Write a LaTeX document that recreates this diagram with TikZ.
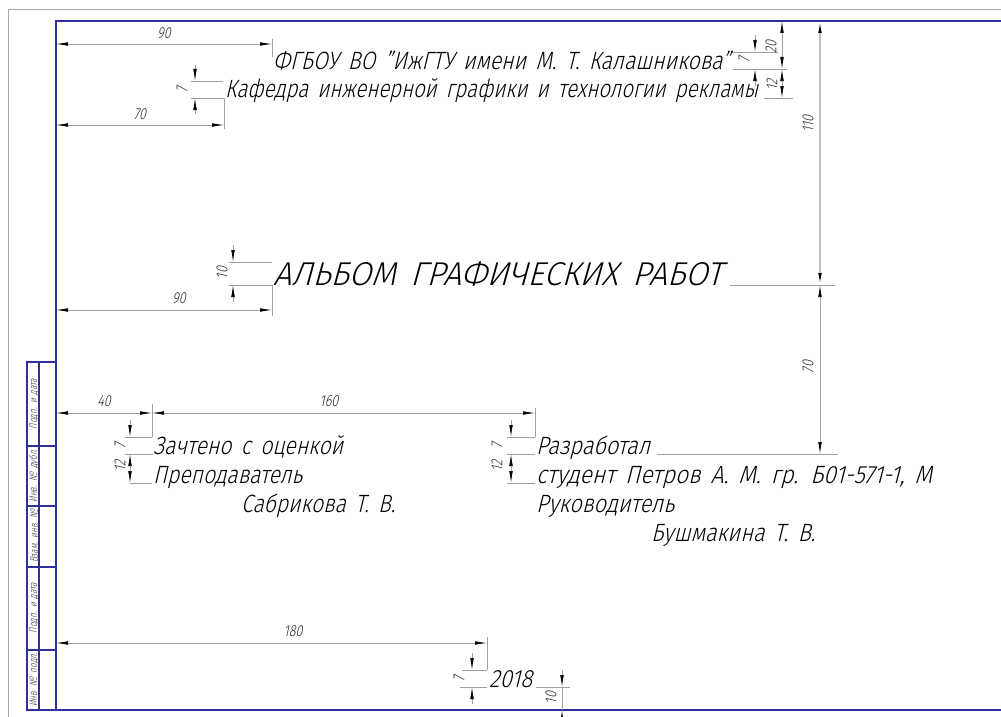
\documentclass[tikz,border=0pt]{standalone}
\usepackage{fontspec}
\usepackage{graphicx}
\usetikzlibrary{arrows.meta}
\setmainfont{Fira Sans Light}[FakeSlant=0.22,FakeStretch=0.78,WordSpace=1.6]
\newcommand{\fitw}[2]{\resizebox{#1pt}{\height}{#2}}
\definecolor{frameblue}{HTML}{30309A}
\definecolor{dimgray}{HTML}{A0A0A0}
\definecolor{widegray}{HTML}{BEBEBE}
\definecolor{inkc}{HTML}{000000}
\tikzset{
  x=1pt,y=-1pt,
  sheet/.style={draw=frameblue,line width=1.1pt},
  pageedge/.style={draw=black!35,line width=0.8pt},
  dimline/.style={draw=dimgray,line width=0.7pt},
  dimtip/.style={draw=dimgray,line width=0.7pt,-{Latex[length=12pt,width=3.6pt,color=black]}},
  dimtiptwo/.style={draw=dimgray,line width=0.7pt,{Latex[length=12pt,width=3.6pt,color=black]}-{Latex[length=12pt,width=3.6pt,color=black]}},
  body/.style={anchor=base west,inner sep=0pt,text=inkc,font=\fontsize{25}{25}\selectfont},
  titletext/.style={anchor=base west,inner sep=0pt,text=inkc,font=\fontsize{33}{33}\selectfont},
  dimtext/.style={inner sep=0pt,text=inkc!85,font=\fontsize{16}{16}\selectfont},
  stamptext/.style={inner sep=0pt,text=inkc!80,rotate=90,font=\fontsize{10.5}{10.5}\selectfont},
}
\begin{document}
\begin{tikzpicture}
\useasboundingbox (0,0) rectangle (1001,717);
% page edge
\draw[pageedge] (8,717) -- (8,9) -- (1001,9);
% sheet frame
\draw[sheet] (1001,21) -- (56,21) -- (56,710) -- (1001,710);
% side stamp
\draw[sheet] (56,362) -- (27,362) -- (27,710) -- (56,710);
\draw[sheet] (39,362) -- (39,710);
\foreach \yy in {446,506,567,650} \draw[sheet] (27,\yy) -- (56,\yy);
\node[stamptext] (s1) at (34,404) {Подп. и дата};
\node[stamptext] (s2) at (34,476) {Инв. № дубл.};
\node[stamptext] (s3) at (34,536) {Взам. инв. №};
\node[stamptext] (s4) at (34,608) {Подп. и дата};
\node[stamptext] (s5) at (34,680) {Инв. № подл.};

% texts
\node[body] (t1) at (273,69) {\fitw{457}{ФГБОУ ВО "ИжГТУ имени М. Т. Калашникова"}};
\node[body] (t2) at (225,98) {\fitw{533}{Кафедра инженерной графики и технологии рекламы}};
\node[titletext] (t3) at (273,285) {\fitw{449}{АЛЬБОМ ГРАФИЧЕСКИХ РАБОТ}};
\node[body] (t4) at (153,454) {\fitw{190}{Зачтено с оценкой}};
\node[body] (t5) at (153,483) {\fitw{149}{Преподаватель}};
\node[body] (t6) at (241,512) {\fitw{154}{Сабрикова Т. В.}};
\node[body] (t7) at (536,454) {\fitw{114}{Разработал}};
\node[body] (t8) at (536,483) {\fitw{396}{студент Петров А. М. гр. Б01-571-1, М}};
\node[body] (t9) at (536,512) {\fitw{138}{Руководитель}};
\node[body] (t10) at (651,541) {\fitw{164}{Бушмакина Т. В.}};
\node[body] (t11) at (489,687) {\fitw{43}{2018}};

% top-left dims
\draw[dimline] (272,39) -- (272,57);
\draw[dimtiptwo] (56,44) -- (272,44);
\node[dimtext] (d1) at (164,33) {90};
\draw[dimline] (191,81) -- (223,81);
\draw[dimline] (191,98) -- (224,98) -- (224,129);
\draw[dimtip] (195,65) -- (195,81);
\draw[dimtip] (195,114) -- (195,98);
\node[dimtext,rotate=90] (d2) at (182,90) {7};
\draw[dimtiptwo] (56,125) -- (224,125);
\node[dimtext] (d3) at (140,114) {70};

% top-right dims
\draw[dimline] (733,52) -- (778,52);
\draw[dimline] (733,69) -- (787,69);
\draw[dimline] (764,98) -- (793,98);
\draw[dimtip] (755,35) -- (755,52);
\draw[dimtip] (755,86) -- (755,69);
\node[dimtext,rotate=90] (d4) at (744,60) {7};
\draw[dimtiptwo] (782,21) -- (782,69);
\draw[dimtiptwo] (782,69) -- (782,98);
\node[dimtext,rotate=90] (d5) at (771,47) {20};
\node[dimtext,rotate=90] (d6) at (772,85) {12};
\draw[dimtiptwo,draw=widegray,line width=1.4pt] (820,21) -- (820,285);
\node[dimtext,rotate=90] (d7) at (808,124) {110};
\draw[dimtiptwo] (820,285) -- (820,454);
\node[dimtext,rotate=90] (d8) at (808,367) {70};

% title dims
\draw[dimline] (730,285) -- (835,285);
\draw[dimline] (229,262) -- (272,262);
\draw[dimline] (229,285) -- (272,285) -- (272,316);
\draw[dimtip] (233,245) -- (233,262);
\draw[dimtip] (233,302) -- (233,285);
\node[dimtext,rotate=90] (d9) at (222,273) {10};
\draw[dimtiptwo] (56,310) -- (272,310);
\node[dimtext] (d10) at (179,298) {90};

% lower-left dims
\draw[dimline] (152,404) -- (152,437);
\draw[dimtiptwo] (56,413) -- (152,413);
\node[dimtext] (d11) at (104,401) {40};
\draw[dimline] (535,408) -- (535,437);
\draw[dimtiptwo] (152,413) -- (535,413);
\node[dimtext] (d12) at (329,401) {160};
\draw[dimline] (125,437) -- (152,437);
\draw[dimline] (125,454) -- (153,454);
\draw[dimline] (130,483) -- (152,483);
\draw[dimtip] (130,420) -- (130,437);
\draw[dimtiptwo] (130,454) -- (130,483);
\node[dimtext,rotate=90] (d13) at (120,446) {7};
\node[dimtext,rotate=90] (d14) at (120,466) {12};

% lower-right dims
\draw[dimline] (507,437) -- (535,437);
\draw[dimline] (507,454) -- (535,454);
\draw[dimline] (507,483) -- (535,483);
\draw[dimline] (657,454) -- (838,454);
\draw[dimtip] (511,420) -- (511,437);
\draw[dimtiptwo] (511,454) -- (511,483);
\node[dimtext,rotate=90] (d15) at (497,446) {7};
\node[dimtext,rotate=90] (d16) at (497,466) {12};

% bottom dims
\draw[dimline] (487,637) -- (487,670);
\draw[dimtiptwo] (56,643) -- (487,643);
\node[dimtext] (d17) at (293,631) {180};
\draw[dimline] (462,670) -- (487,670);
\draw[dimline] (460,687) -- (487,687);
\draw[dimtip] (472,653) -- (472,670);
\draw[dimtip] (472,704) -- (472,687);
\node[dimtext,rotate=90] (d18) at (459,679) {7};
\draw[dimline] (536,687) -- (570,687);
\draw[dimtip] (562,670) -- (562,687);
\draw[dimtip] (562,722) -- (562,710);
\draw[dimline] (562,687) -- (562,710);
\node[dimtext,rotate=90] (d19) at (551,698) {10};
\end{tikzpicture}
\end{document}
